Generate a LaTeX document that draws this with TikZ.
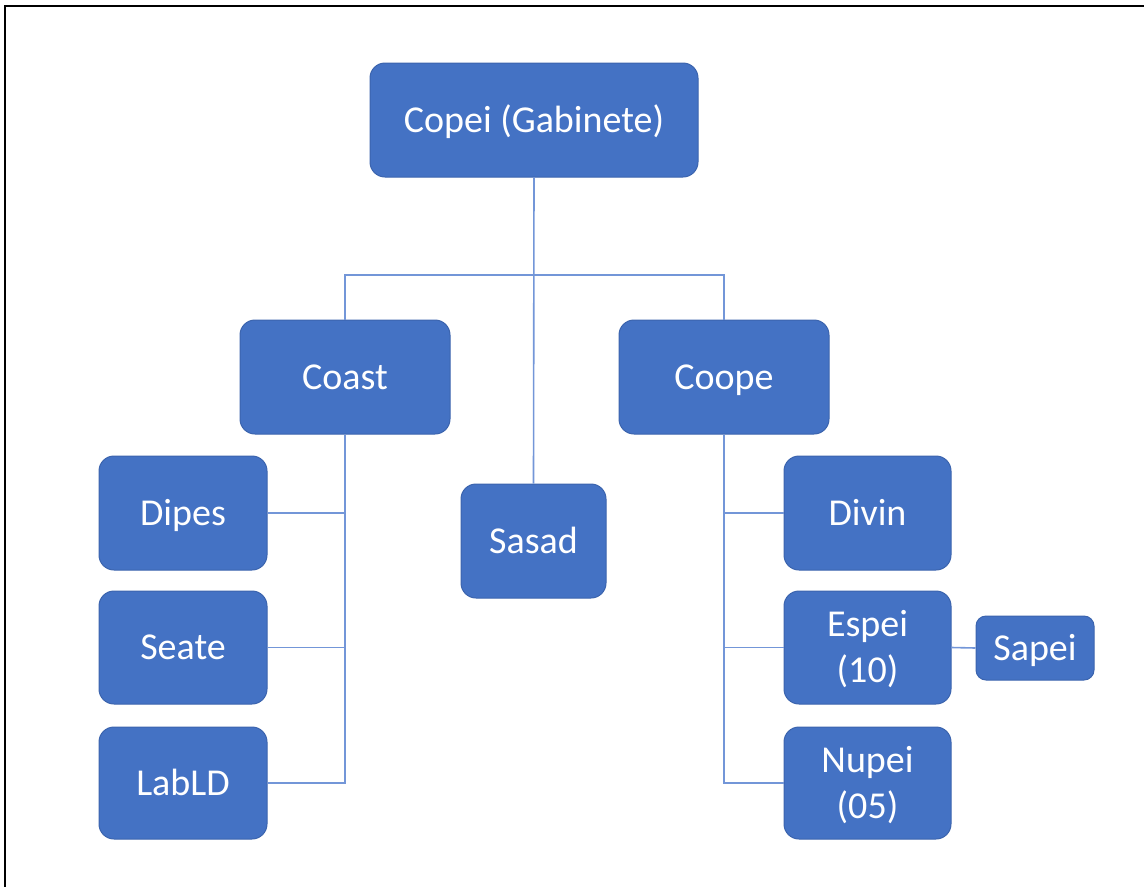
\documentclass[tikz,border=0pt]{standalone}
\usepackage{fontspec}
\setmainfont{Carlito}
\definecolor{boxfill}{HTML}{4472C4}
\definecolor{boxedge}{HTML}{3B64AE}
\definecolor{linkblue}{HTML}{7396D8}
\begin{document}
\begin{tikzpicture}[x=1pt,y=-1pt,
  unit/.style={draw=boxedge, line width=1pt, fill=boxfill, rounded corners=15pt,
    text=white, align=center, inner sep=0pt, text height=26pt, text depth=2pt,
    font=\fontsize{38}{46}\selectfont},
  twoline/.style={text height=72pt},
  link/.style={draw=linkblue, line width=1.6pt, line join=miter}]
\useasboundingbox (0,0) rectangle (1144,887);
% outer frame (top and left edges)
\draw[line width=2.2pt] (1144,6) -- (5,6) -- (5,887);

% boxes
\node[unit, minimum width=328pt, minimum height=114pt] (copei) at (534,120) {Copei (Gabinete)};
\node[unit, minimum width=210pt, minimum height=114pt] (coast) at (345,377) {Coast};
\node[unit, minimum width=210pt, minimum height=114pt] (coope) at (724,377) {Coope};
\node[unit, minimum width=145pt, minimum height=114pt] (sasad) at (533.5,541) {Sasad};
\node[unit, minimum width=168pt, minimum height=114pt] (dipes) at (183,513) {Dipes};
\node[unit, minimum width=168pt, minimum height=113pt] (seate) at (183,647.5) {Seate};
\node[unit, minimum width=168pt, minimum height=112pt] (labld) at (183,783) {LabLD};
\node[unit, minimum width=167pt, minimum height=114pt] (divin) at (867.5,513) {Divin};
\node[unit, twoline, minimum width=167pt, minimum height=113pt] (espei) at (867.5,647.5) {Espei\\(10)};
\node[unit, twoline, minimum width=167pt, minimum height=112pt] (nupei) at (867.5,783) {Nupei\\(05)};
\node[unit, rounded corners=10pt, minimum width=118pt, minimum height=64pt] (sapei) at (1035,648) {Sapei};

% connectors
\coordinate (bus) at (534,275);
\draw[link] (copei.south) -- (sasad.north);
\draw[link] (coast.north) |- (bus) -| (coope.north);
\draw[link] (coast.south) |- (labld.east);
\draw[link] (dipes.east) -| (coast.south);
\draw[link] (seate.east) -| (coast.south);
\draw[link] (coope.south) |- (nupei.west);
\draw[link] (divin.west) -| (coope.south);
\draw[link] (espei.west) -| (coope.south);
\draw[link] (espei.east) -- (sapei.west);
\end{tikzpicture}
\end{document}
